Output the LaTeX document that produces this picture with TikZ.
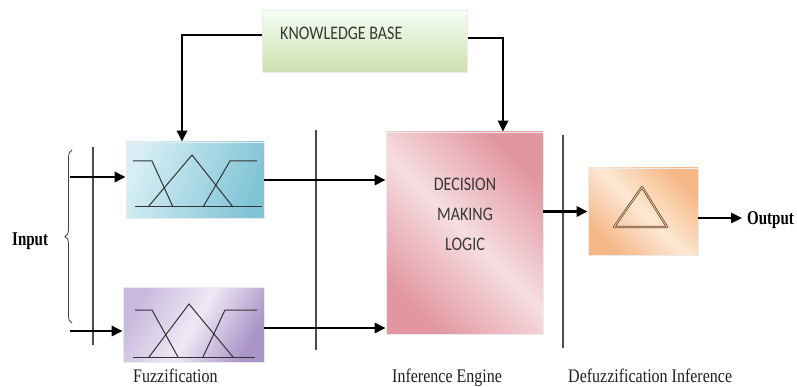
\documentclass[tikz,border=0pt]{standalone}
\usepackage{graphicx}
\usepackage{fontspec}
\setmainfont{Liberation Serif}
\newfontfamily\boxfont{Carlito}
\usetikzlibrary{arrows.meta,decorations.pathreplacing,calc}
\newcommand{\tallt}[1]{\scalebox{1}[1.2]{#1}}
\begin{document}
\begin{tikzpicture}[x=1pt,y=-1pt,
  arr/.style={line width=2.6pt,-{Triangle[length=11pt,width=10pt]}},
  sepline/.style={line width=1.3pt,draw=black!70},
  mf/.style={line width=1pt,draw=black!80},
  box/.style={inner sep=0pt,draw=black!8,line width=0.6pt},
  boxtxt/.style={font=\boxfont\fontsize{16}{25}\selectfont,text=black!78,inner sep=0pt},
  lbl/.style={font=\fontsize{16}{18}\selectfont,anchor=base west,inner sep=0pt,text=black!88},
  iolbl/.style={font=\bfseries\fontsize{15}{18}\selectfont,anchor=base west,inner sep=0pt},
]
\useasboundingbox (0,0) rectangle (797,387);

% boxes
\node[box,minimum width=205pt,minimum height=62pt,
      top color=green!4!white,bottom color={rgb,255:red,205;green,224;blue,176}] (kb) at (365,41) {};
\node[box,minimum width=138pt,minimum height=76pt,
      left color={rgb,255:red,214;green,238;blue,244},right color={rgb,255:red,128;green,196;blue,214},
      shading angle=70] (fz1) at (195,180) {};
\node[box,minimum width=141pt,minimum height=75pt,
      left color={rgb,255:red,200;green,186;blue,222},right color={rgb,255:red,170;green,148;blue,200},
      middle color={rgb,255:red,238;green,233;blue,245},shading angle=60] (fz2) at (193.5,324.5) {};
\node[box,minimum width=157pt,minimum height=202pt,
      left color={rgb,255:red,226;green,150;blue,160},right color={rgb,255:red,226;green,150;blue,160},
      middle color={rgb,255:red,246;green,222;blue,225},shading angle=135] (dml) at (464.5,233) {};
\node[box,minimum width=110pt,minimum height=87pt,
      left color={rgb,255:red,246;green,184;blue,134},right color={rgb,255:red,246;green,184;blue,134},
      middle color={rgb,255:red,253;green,231;blue,212},shading angle=135] (df) at (643,211.5) {};

% box texts
\node[boxtxt,anchor=west] (kbt) at (280,33) {\tallt{KNOWLEDGE BASE}};
\node[boxtxt,align=center] (dmlt) at (465,215) {\tallt{\begin{tabular}{@{}c@{}}DECISION\\MAKING\\LOGIC\end{tabular}}};

% membership functions, upper fuzzifier
\draw[mf] (135,207) -- (262,207);
\draw[mf] (133,161) -- (152,161) -- (173,207);
\draw[mf] (148,207) -- (192,155) -- (233,207);
\draw[mf] (203,207) -- (230,161) -- (257,161);
% membership functions, lower fuzzifier
\draw[mf] (133,357) -- (255,357);
\draw[mf] (135,310) -- (152,310) -- (178,357);
\draw[mf] (149,357) -- (189,304) -- (233,357);
\draw[mf] (203,357) -- (225,310) -- (257,310);
% defuzzifier triangle
\draw[draw=brown!55!black,double={rgb,255:red,250;green,228;blue,210},double distance=0.6pt,line width=0.8pt,line join=round]
  (642,187) -- (667,227) -- (614,227) -- cycle;

% separator lines
\coordinate (s1t) at (93,147);  \coordinate (s1b) at (93,345);
\coordinate (s2t) at (316,130); \coordinate (s2b) at (316,350);
\coordinate (s3t) at (563,135); \coordinate (s3b) at (563,348);
\draw[sepline] (s1t) -- (s1b);
\draw[sepline] (s2t) -- (s2b);
\draw[sepline] (s3t) -- (s3b);

% input brace
\coordinate (bt) at (72,150); \coordinate (bb) at (72,323);
\draw[line width=0.8pt,draw=black!75,decorate,decoration={brace,amplitude=7pt}] (bb) -- (bt);
\node[iolbl] (inp) at (12,245) {\scalebox{1}[1.3]{Input}};

% connectors
\coordinate (in1) at (70,177);
\coordinate (in2) at (70,331);
\draw[arr] (in1) -- (in1 -| fz1.west);
\draw[arr] (in2) -- (in2 -| fz2.west);
\draw[arr] (fz1.east) -- (fz1.east -| dml.west);
\draw[arr] ([yshift=-3.5pt]fz2.east) -- ([yshift=-3.5pt]fz2.east -| dml.west);
\draw[arr] ([yshift=6pt]kb.west) -| ([xshift=-13pt]fz1.north);
\draw[arr] ([yshift=3pt]kb.east) -| ([xshift=38.5pt]dml.north);
\draw[arr] (dml.east |- df.west) -- (df.west);
\coordinate (outp) at (742,218);
\draw[arr] (df.east |- outp) -- (outp);
\node[iolbl] (outl) at (747,225) {\scalebox{1}[1.3]{Output}};

% stage labels
\node[lbl] (lf) at (133,382) {\tallt{Fuzzification}};
\node[lbl] (li) at (392,382) {\tallt{Inference Engine}};
\node[lbl] (ld) at (568,382) {\tallt{Defuzzification Inference}};
\end{tikzpicture}
\end{document}
